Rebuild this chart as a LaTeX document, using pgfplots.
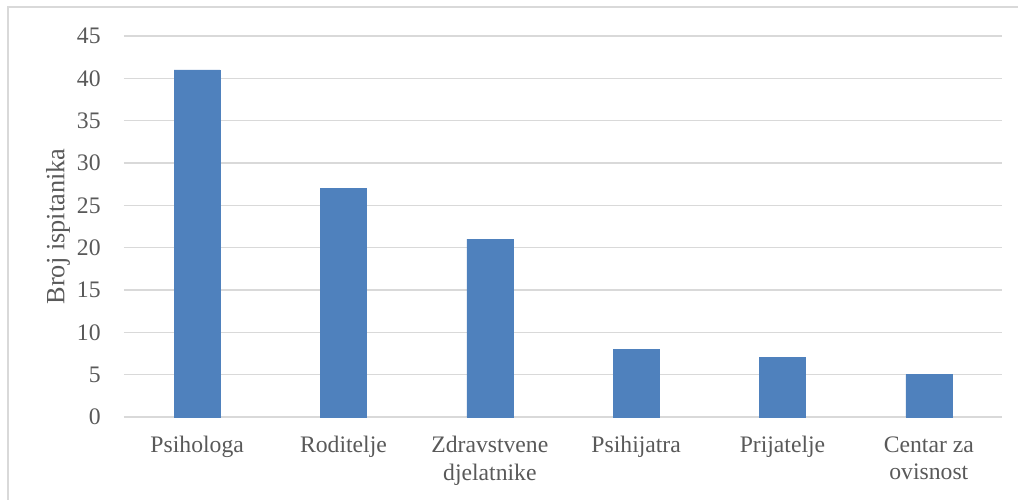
\documentclass[border=0pt]{standalone}
\usepackage{fontspec}
\setmainfont{Liberation Serif}
\usepackage{pgfplots}
\pgfplotsset{compat=1.18}
\definecolor{barblue}{RGB}{79,129,189}
\definecolor{gridgray}{RGB}{217,217,217}
\definecolor{txtgray}{RGB}{89,89,89}
\begin{document}
\begin{tikzpicture}
\begin{axis}[
  name=ax,
  scale only axis,
  width=526.8pt, height=228.6pt,
  xmin=-0.5, xmax=5.5, ymin=0, ymax=45,
  ytick={0,5,...,45},
  xtick=data,
  xticklabels={Psihologa,Roditelje,{Zdravstvene\\djelatnike},Psihijatra,Prijatelje,{Centar za\\ovisnost}},
  major tick length=0pt,
  axis line style={draw=none},
  ymajorgrids,
  grid style={gridgray, line width=0.9pt},
  font=\fontsize{14.2}{16.4}\selectfont,
  tick label style={text=txtgray},
  /pgf/number format/assume math mode=true,
  yticklabel style={anchor=east, inner sep=0pt, xshift=-13.8pt},
  xticklabel style={anchor=north, inner sep=0pt, yshift=-11.5pt, align=center},
  ylabel={Broj ispitanika},
  every axis y label/.style={at={(axis description cs:0,0.5)}, xshift=-39.6pt, rotate=90, anchor=center, text=txtgray, font=\fontsize{15.8}{19}\selectfont},
]
\addplot[ybar, bar width=27.6pt, fill=barblue, draw=barblue] coordinates {(0,41) (1,27) (2,21) (3,8) (4,7) (5,5)};
\end{axis}
\draw[gridgray, line width=1.2pt] ([xshift=-69.6pt, yshift=-100pt]ax.south west) -- ([xshift=-69.6pt,yshift=17.4pt]ax.north west) -- ([xshift=100pt,yshift=17.4pt]ax.north east);
\pgfresetboundingbox
\path ([xshift=-74.4pt,yshift=-49.2pt]ax.south west) rectangle ([xshift=9.6pt,yshift=21.6pt]ax.north east);
\end{tikzpicture}
\end{document}
